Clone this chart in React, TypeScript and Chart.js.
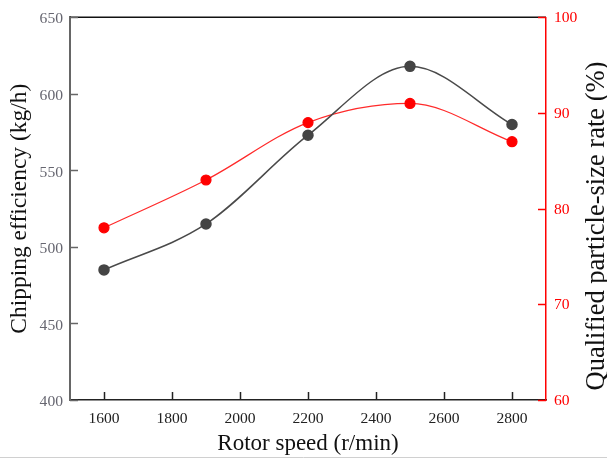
import React, { useEffect, useRef } from 'react';
import { Chart, registerables } from 'chart.js';

Chart.register(...registerables);

const rotorSpeed = [1600, 1900, 2200, 2500, 2800];
const chippingEfficiency = [485, 515, 573, 618, 580];
const qualifiedRate = [78, 83, 89, 91, 87];
const xTicks = [1600, 1800, 2000, 2200, 2400, 2600, 2800];
const leftTicks = [400, 450, 500, 550, 600, 650];
const rightTicks = [60, 70, 80, 90, 100];

const FONT = "'Liberation Serif', 'DejaVu Serif', serif";

const decorPlugin = {
  id: 'decor',
  afterDraw(chart: any) {
    const { ctx, chartArea: a, scales, width } = chart;
    ctx.save();
    // top border
    ctx.strokeStyle = '#111';
    ctx.lineWidth = 1.5;
    ctx.beginPath();
    ctx.moveTo(a.left, a.top);
    ctx.lineTo(a.right, a.top);
    ctx.stroke();
    // inward x ticks
    ctx.strokeStyle = '#222';
    ctx.lineWidth = 1.5;
    scales.x.ticks.forEach((t: any) => {
      const px = Math.round(scales.x.getPixelForValue(t.value)) + 0.5;
      ctx.beginPath();
      ctx.moveTo(px, a.bottom);
      ctx.lineTo(px, a.bottom - 8);
      ctx.stroke();
    });
    // inward left ticks
    ctx.strokeStyle = '#666';
    scales.y.ticks.forEach((t: any) => {
      const py = Math.round(scales.y.getPixelForValue(t.value)) + 0.5;
      ctx.beginPath();
      ctx.moveTo(a.left, py);
      ctx.lineTo(a.left + 8, py);
      ctx.stroke();
    });
    // inward right ticks
    ctx.strokeStyle = '#ff0000';
    scales.y1.ticks.forEach((t: any) => {
      const py = Math.round(scales.y1.getPixelForValue(t.value)) + 0.5;
      ctx.beginPath();
      ctx.moveTo(a.right, py);
      ctx.lineTo(a.right - 8, py);
      ctx.stroke();
    });
    // faint frame line at the bottom of the figure
    ctx.strokeStyle = '#d0d0d0';
    ctx.lineWidth = 1;
    ctx.beginPath();
    ctx.moveTo(0, 457.5);
    ctx.lineTo(width, 457.5);
    ctx.stroke();
    // right axis title, reading upward
    ctx.translate(604, 226);
    ctx.rotate(-Math.PI / 2);
    ctx.fillStyle = '#111';
    ctx.font = `26.5px ${FONT}`;
    ctx.textAlign = 'center';
    ctx.textBaseline = 'alphabetic';
    ctx.fillText('Qualified particle-size rate (%)', 0, 0);
    ctx.restore();
  },
};

export default function App() {
  const ref = useRef<HTMLCanvasElement | null>(null);

  useEffect(() => {
    document.body.style.margin = '0';
    const canvas = ref.current;
    if (!canvas) return;
    const chart = new Chart(canvas, {
      type: 'line',
      data: {
        datasets: [
          {
            label: 'Chipping efficiency',
            data: rotorSpeed.map((x, i) => ({ x, y: chippingEfficiency[i] })),
            borderColor: '#4a4a4a',
            backgroundColor: '#444444',
            pointBackgroundColor: '#444444',
            pointBorderColor: '#444444',
            borderWidth: 1.5,
            pointRadius: 5,
            cubicInterpolationMode: 'monotone',
            yAxisID: 'y',
          },
          {
            label: 'Qualified particle-size rate',
            data: rotorSpeed.map((x, i) => ({ x, y: qualifiedRate[i] })),
            borderColor: '#ff2a2a',
            backgroundColor: '#ff0000',
            pointBackgroundColor: '#ff0000',
            pointBorderColor: '#ff0000',
            borderWidth: 1.2,
            pointRadius: 5,
            cubicInterpolationMode: 'monotone',
            yAxisID: 'y1',
          },
        ],
      },
      options: {
        animation: false,
        responsive: false,
        maintainAspectRatio: false,
        layout: { padding: { top: 16, left: 0, right: 0, bottom: 0 } },
        plugins: { legend: { display: false }, tooltip: { enabled: false } },
        scales: {
          x: {
            type: 'linear',
            min: 1500,
            max: 2900,
            afterBuildTicks: (axis: any) => {
              axis.ticks = xTicks.map((v) => ({ value: v }));
            },
            afterFit: (s: any) => {
              s.height = 61;
            },
            grid: { drawOnChartArea: false, drawTicks: false },
            border: { color: '#222', width: 1.5 },
            ticks: {
              color: '#222',
              padding: 10,
              maxRotation: 0,
              autoSkip: false,
              font: { family: FONT, size: 15.6 },
              callback: (v: any) => String(v),
            },
            title: {
              display: true,
              text: 'Rotor speed (r/min)',
              color: '#111',
              font: { family: FONT, size: 23 },
              padding: { top: 0, bottom: 3 },
            },
          },
          y: {
            type: 'linear',
            position: 'left',
            min: 400,
            max: 650,
            afterBuildTicks: (axis: any) => {
              axis.ticks = leftTicks.map((v) => ({ value: v }));
            },
            afterFit: (s: any) => {
              s.width = 70;
            },
            grid: { drawOnChartArea: false, drawTicks: false },
            border: { color: '#666', width: 2 },
            ticks: {
              color: '#666670',
              padding: 7,
              labelOffset: 2,
              font: { family: FONT, size: 15.6 },
              callback: (v: any) => String(v),
            },
            title: {
              display: true,
              text: 'Chipping efficiency (kg/h)',
              color: '#111',
              font: { family: FONT, size: 23.5 },
              padding: { top: 6, bottom: 0 },
            },
          },
          y1: {
            type: 'linear',
            position: 'right',
            min: 60,
            max: 100,
            afterBuildTicks: (axis: any) => {
              axis.ticks = rightTicks.map((v) => ({ value: v }));
            },
            afterFit: (s: any) => {
              s.width = 61;
            },
            grid: { drawOnChartArea: false, drawTicks: false },
            border: { color: '#ff0000', width: 1.5 },
            ticks: {
              color: '#ff0000',
              padding: 8,
              labelOffset: 1,
              font: { family: FONT, size: 15.6 },
              callback: (v: any) => String(v),
            },
          },
        },
      },
      plugins: [decorPlugin],
    } as any);
    return () => chart.destroy();
  }, []);

  return <canvas ref={ref} width={607} height={461} style={{ display: 'block' }} />;
}
